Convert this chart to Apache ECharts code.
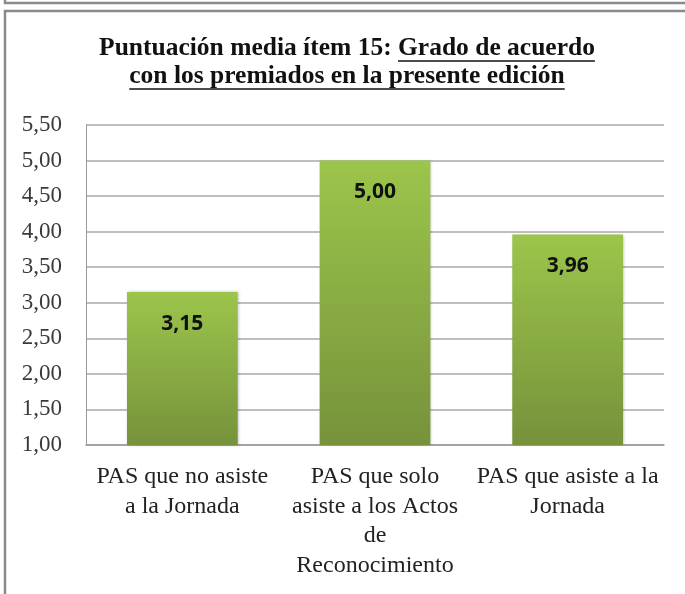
<!DOCTYPE html>
<html>
<head>
<meta charset="utf-8">
<script src="https://cdn.jsdelivr.net/npm/echarts@6/dist/echarts.min.js"></script>
<style>
  html, body { margin: 0; padding: 0; background: #fff; }
  #chart { width: 685px; height: 594px; }
</style>
</head>
<body>
<div id="chart"></div>
<script>
// categorías del eje X
var categories = [
  'PAS que no asiste\na la Jornada',
  'PAS que solo\nasiste a los Actos\nde\nReconocimiento',
  'PAS que asiste a la\nJornada'
];
// puntuación media
var scores = [3.15, 5.00, 3.96];
// escala Y
var yMin = 1, yMax = 5.5, yStep = 0.5;

// partes del título (la segunda va subrayada)
var titlePlain = 'Puntuación media ítem 15: ';
var titleLine1 = 'Grado de acuerdo';
var titleLine2 = 'con los premiados en la presente edición';

var serif = '"Liberation Serif", "DejaVu Serif", serif';
var sans = '"Open Sans", "Noto Sans", sans-serif';
var titleSize = 25.5;
var titleCx = 347;

// medir el título para colocar el subrayado
var ctx = document.createElement('canvas').getContext('2d');
ctx.font = 'bold ' + titleSize + 'px ' + serif;
var wPlain = ctx.measureText(titlePlain).width;
var wL1 = ctx.measureText(titleLine1).width;
var wL2 = ctx.measureText(titleLine2).width;
var x1Start = titleCx - (wPlain + wL1) / 2;
var x2Start = titleCx - wL2 / 2;

var titleFont = { fontFamily: serif, fontWeight: 'bold', fontSize: titleSize, fill: '#111' };

var chart = echarts.init(document.getElementById('chart'), null, { renderer: 'canvas' });

var option = {
  animation: false,
  backgroundColor: '#fff',
  grid: { left: 86, right: 21, top: 125, bottom: 149 },
  xAxis: {
    type: 'category',
    data: categories,
    axisTick: { show: false },
    axisLine: { lineStyle: { color: '#9a9a9a', width: 1.5 } },
    axisLabel: {
      interval: 0,
      margin: 17,
      fontFamily: serif,
      fontSize: 24,
      lineHeight: 29.5,
      color: '#222'
    }
  },
  yAxis: {
    type: 'value',
    min: yMin,
    max: yMax,
    interval: yStep,
    axisLine: { show: true, lineStyle: { color: '#9a9a9a', width: 1 } },
    axisTick: { show: false },
    splitLine: { lineStyle: { color: '#a8a8a8', width: 1.5 } },
    axisLabel: {
      margin: 24,
      fontFamily: serif,
      fontSize: 23,
      color: '#3a3a3a',
      formatter: function (v) { return v.toFixed(2).replace('.', ','); }
    }
  },
  series: [{
    type: 'bar',
    data: scores,
    barWidth: '57.5%',
    itemStyle: {
      color: new echarts.graphic.LinearGradient(0, 0, 0, 1, [
        { offset: 0, color: '#9cc54b' },
        { offset: 1, color: '#76923b' }
      ]),
      shadowColor: 'rgba(0,0,0,0.25)',
      shadowBlur: 3,
      shadowOffsetX: 1
    },
    label: {
      show: true,
      position: 'insideTop',
      distance: 21,
      fontFamily: sans,
      fontWeight: 'bold',
      fontSize: 21,
      color: '#111',
      formatter: function (p) { return p.value.toFixed(2).replace('.', ','); }
    }
  }],
  graphic: [
    // marcos del documento
    { type: 'polyline', shape: { points: [[5, 0], [5, 3], [685, 3]] }, style: { stroke: '#8a8a8a', lineWidth: 2.5, fill: null } },
    { type: 'polyline', shape: { points: [[5, 594], [5, 11], [685, 11]] }, style: { stroke: '#8a8a8a', lineWidth: 2.5, fill: null } },
    // título en dos líneas
    { type: 'text', x: x1Start, y: 48, style: Object.assign({ text: titlePlain + titleLine1, align: 'left', verticalAlign: 'middle' }, titleFont) },
    { type: 'text', x: x2Start, y: 76, style: Object.assign({ text: titleLine2, align: 'left', verticalAlign: 'middle' }, titleFont) },
    // subrayado del título
    { type: 'line', shape: { x1: x1Start + wPlain, y1: 61, x2: x1Start + wPlain + wL1, y2: 61 }, style: { stroke: '#111', lineWidth: 1.5 } },
    { type: 'line', shape: { x1: x2Start, y1: 89, x2: x2Start + wL2, y2: 89 }, style: { stroke: '#111', lineWidth: 1.5 } }
  ]
};

chart.setOption(option);
</script>
</body>
</html>
